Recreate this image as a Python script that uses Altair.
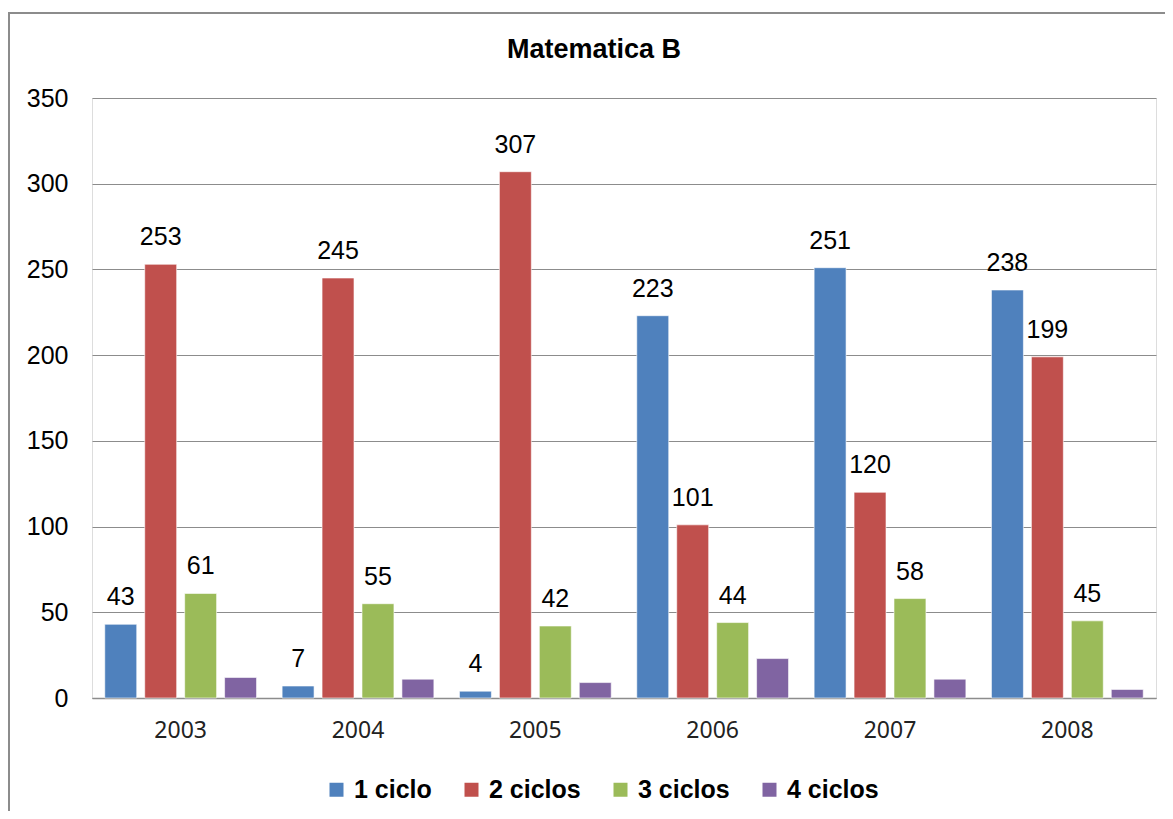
import altair as alt
import pandas as pd

years = ["2003", "2004", "2005", "2006", "2007", "2008"]
series = ["1 ciclo", "2 ciclos", "3 ciclos", "4 ciclos"]
c1 = [43, 7, 4, 223, 251, 238]
c2 = [253, 245, 307, 101, 120, 199]
c3 = [61, 55, 42, 44, 58, 45]
c4 = [12, 11, 9, 23, 11, 5]
colors = ["#4F81BD", "#C0504D", "#9BBB59", "#8064A2"]
y_ticks = [0, 50, 100, 150, 200, 250, 300, 350]

rows = []
for s, vals in zip(series, [c1, c2, c3, c4]):
    for yr, v in zip(years, vals):
        rows.append({"Año": yr, "Serie": s, "Valor": v})
df = pd.DataFrame(rows)

W, H = 1064, 600
FONT = "Liberation Sans"

base = alt.Chart(df).encode(
    x=alt.X("Año:N", sort=years,
            scale=alt.Scale(paddingInner=0, paddingOuter=0),
            axis=alt.Axis(title=None, labelAngle=0, ticks=False,
                          domainColor="#8c8c8c", domainWidth=1.5,
                          labelFontSize=23, labelPadding=21,
                          labelColor="#222222", labelFont="Noto Sans")),
    xOffset=alt.XOffset("Serie:N", sort=series,
                        scale=alt.Scale(paddingInner=0.2, paddingOuter=0.32)),
    y=alt.Y("Valor:Q", scale=alt.Scale(domain=[0, 350], nice=False),
            axis=alt.Axis(values=y_ticks, title=None, ticks=False, domain=False,
                          gridColor="#8c8c8c", gridWidth=1,
                          labelFontSize=25, labelPadding=24,
                          labelColor="#000000", labelFont=FONT)),
)

bars = base.mark_bar(stroke="#ffffff", strokeWidth=0.6).encode(
    color=alt.Color("Serie:N", sort=series,
                    scale=alt.Scale(domain=series, range=colors),
                    legend=alt.Legend(title=None, orient="none", direction="horizontal",
                                      legendX=232, legendY=679,
                                      symbolType="square", symbolSize=196,
                                      symbolStrokeWidth=0,
                                      labelFontSize=25, labelFontWeight="bold",
                                      labelFont=FONT, labelColor="#000000",
                                      columnPadding=27, labelOffset=5))
)

labels = base.mark_text(baseline="middle", dy=-27, fontSize=25, font=FONT,
                        color="#000000").encode(
    text="Valor:Q"
).transform_filter("datum.Serie != '4 ciclos'")

frame = alt.Chart(pd.DataFrame({"f": [0]})).mark_rect(
    fill="transparent", stroke="#8c8c8c", strokeWidth=2
).encode(
    x=alt.value(-83), x2=alt.value(1090),
    y=alt.value(-85), y2=alt.value(730)
)

chart = alt.layer(frame, bars, labels).properties(
    width=W, height=H,
    autosize="none",
    padding={"left": 84, "top": 90, "right": 9, "bottom": 113},
    title=alt.TitleParams("Matematica B", fontSize=27, fontWeight="bold",
                          font=FONT, anchor="middle", dx=-30, offset=-52,
                          color="#000000"),
).configure_view(strokeWidth=0).configure(font=FONT)

chart.save("out.html", embed_options={"renderer": "svg", "actions": False})
